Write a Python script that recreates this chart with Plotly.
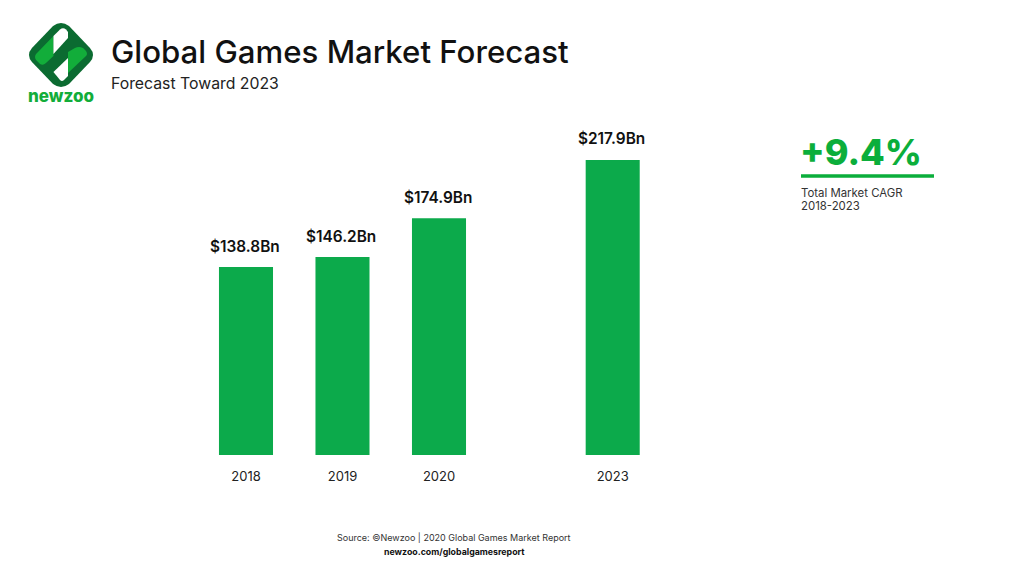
import plotly.graph_objects as go

years = ['2018', '2019', '2020', '2023']
revenue = [138.8, 146.2, 174.9, 217.9]
value_labels = ['$138.8Bn', '$146.2Bn', '$174.9Bn', '$217.9Bn']
# 2023 sits a bit closer than a true time scale would put it
year_pos = [0, 1, 2, 3.8]

FONT = 'Inter'
W, H = 1024, 576


def px(x):
    return x / W


def py(y):
    return 1 - y / H


def svg_path(*parts):
    # each part is a command plus page pixel pairs, shapes want paper coords
    d = []
    for cmd, *xy in parts:
        coords = [f'{px(xy[i]):.4f} {py(xy[i + 1]):.4f}' for i in range(0, len(xy), 2)]
        d.append(' '.join([cmd] + coords))
    return ' '.join(d)


fig = go.Figure()
fig.add_trace(go.Bar(x=year_pos, y=revenue, width=0.56, marker_color='#0CAA4B', marker_line_width=0,
                     hoverinfo='skip'))

fig.update_layout(width=W, height=H, autosize=False, plot_bgcolor='white', paper_bgcolor='white',
                  margin={'l': 0, 'r': 0, 't': 0, 'b': 0}, showlegend=False,
                  xaxis={'range': [-2.549, 8.062], 'tickvals': year_pos, 'ticktext': years, 'showgrid': False,
                         'zeroline': False, 'showline': False, 'ticks': '', 'ticklabelstandoff': 12,
                         'tickfont': {'family': FONT, 'size': 13, 'color': '#222222'}, 'domain': [0, 1]},
                  yaxis={'range': [0, 336], 'domain': [121 / H, 1], 'visible': False})

# value labels float well above the bars, more than textposition outside gives
for pos, val, txt in zip(year_pos, revenue, value_labels):
    fig.add_annotation(x=pos, y=val, text=txt, showarrow=False, yanchor='middle', yshift=21, xshift=-1,
                       font={'family': FONT, 'size': 15.4, 'color': '#111111', 'weight': 600})

# logo
logo = [
    # dark rounded diamond
    ('#0B6B31', svg_path(('M', 53, 26), ('Q', 61, 20, 69, 26), ('L', 90, 48), ('Q', 96, 55, 90, 62),
                         ('L', 69, 84), ('Q', 61, 90, 53, 84), ('L', 32, 62), ('Q', 26, 55, 32, 48), ('Z',))),
    # light green stripes
    ('#12AD3A', svg_path(('M', 53.5, 36), ('L', 36, 54), ('Q', 34, 57, 36, 60), ('L', 40, 64), ('Q', 43, 66, 46, 63),
                         ('L', 53.5, 56), ('Z',))),
    ('#12AD3A', svg_path(('M', 68, 52), ('L', 75, 48), ('Q', 79, 46, 83, 48), ('L', 86, 51), ('Q', 88, 54, 86, 56),
                         ('L', 68, 73), ('Z',))),
    # white strokes
    ('#FFFFFF', svg_path(('M', 53.5, 36), ('L', 60, 29.5), ('Q', 63, 27, 66, 29.5), ('L', 68, 32), ('L', 68, 38),
                         ('L', 53.5, 54), ('Z',))),
    ('#FFFFFF', svg_path(('M', 68, 58), ('L', 53.5, 72), ('L', 60, 80), ('Q', 62, 82, 64, 80), ('L', 68, 76), ('Z',))),
]
for color, d in logo:
    fig.add_shape(type='path', xref='paper', yref='paper', path=d, fillcolor=color, line_width=0, layer='above')

# line under the CAGR number
fig.add_shape(type='line', xref='paper', yref='paper', x0=px(801), x1=px(934), y0=py(176), y1=py(176),
              line={'color': '#0BAE3B', 'width': 3.5})


def label(x, y, text, size, color='#111111', weight=400, anchor='left'):
    fig.add_annotation(xref='paper', yref='paper', x=px(x), y=py(y), text=text, showarrow=False, xanchor=anchor,
                       yanchor='middle', align='left', borderpad=0,
                       font={'family': FONT, 'size': size, 'color': color, 'weight': weight})


label(110, 52, 'Global Games Market Forecast', 31.2, weight=500)
label(110, 83, 'Forecast Toward 2023', 15.8, color='#222222')
label(61, 96, 'newzoo', 17, color='#12AD3A', weight=800, anchor='center')
label(799, 152, '+9.4%', 36, color='#0BAE3B', weight=800)
label(800, 193, 'Total Market CAGR', 11.4, color='#333333')
label(800, 206, '2018-2023', 11.4, color='#333333')
label(454, 537, 'Source: ©Newzoo | 2020 Global Games Market Report', 9, color='#333333', anchor='center')
label(454, 551, 'newzoo.com/globalgamesreport', 8.8, color='#111111', weight=700, anchor='center')

# drop the browser's default body margin so the figure fills the window exactly
fig.write_html('out.html', config={'displayModeBar': False}, post_script="document.body.style.margin='0'")
